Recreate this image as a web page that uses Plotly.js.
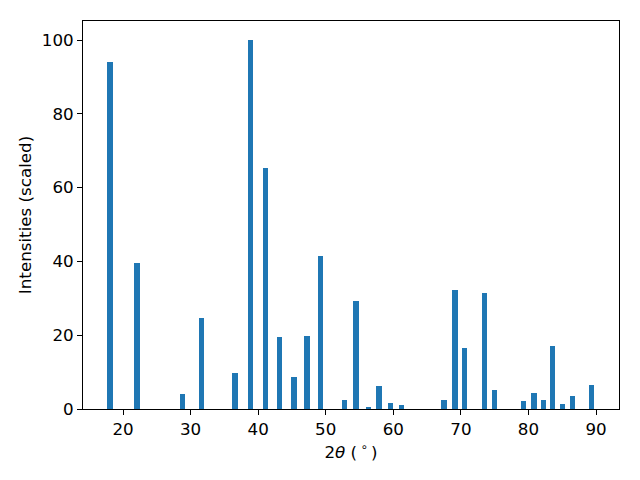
<!DOCTYPE html>
<html>
<head>
<meta charset="utf-8">
<script src="https://cdn.plot.ly/plotly-3.0.1.min.js"></script>
<style>html,body{margin:0;padding:0;background:#fff;}#chart{width:640px;height:480px;}</style>
</head>
<body>
<div id="chart"></div>
<script>
const twoTheta = [18.1, 22.1, 28.8, 31.6, 36.6, 38.9, 41.1, 43.2, 45.3, 47.2, 49.2, 52.8,
  54.5, 56.3, 57.9, 59.6, 61.2, 67.5, 69.1, 70.5, 73.5, 75.0, 79.3, 80.8, 82.2, 83.6, 85.0, 86.5, 89.3];
const intensities = [94.0, 39.6, 4.1, 24.7, 9.8, 100, 65.3, 19.5, 8.7, 19.8, 41.5, 2.4,
  29.3, 0.5, 6.2, 1.6, 1.1, 2.4, 32.2, 16.5, 31.4, 5.2, 2.2, 4.3, 2.4, 17.1, 1.4, 3.5, 6.5];
const xTicks = [20, 30, 40, 50, 60, 70, 80, 90];
const yTicks = [0, 20, 40, 60, 80, 100];

const font = {family: 'DejaVu Sans', size: 16.7, color: '#000'};
Plotly.newPlot('chart', [{
  type: 'bar',
  x: twoTheta,
  y: intensities,
  width: 0.8,
  marker: {color: '#1f77b4', line: {width: 0}}
}], {
  width: 640, height: 480,
  margin: {l: 83, r: 21, t: 21, b: 71},
  paper_bgcolor: '#fff', plot_bgcolor: '#fff',
  font: font,
  showlegend: false,
  bargap: 0,
  xaxis: {
    range: [14.08, 93.4],
    tickvals: xTicks, ticktext: xTicks.map(String),
    ticks: 'outside', ticklen: 5, tickwidth: 1, tickcolor: '#000',
    showline: true, linecolor: '#000', linewidth: 1, mirror: true,
    showgrid: false, zeroline: false,
    tickfont: font,
    title: {text: '2<i>θ</i> (\u2009<sup>∘</sup>\u2009)', font: font, standoff: 8}
  },
  yaxis: {
    range: [0, 105.15],
    tickvals: yTicks, ticktext: yTicks.map(String),
    ticks: 'outside', ticklen: 5, tickwidth: 1, tickcolor: '#000',
    showline: true, linecolor: '#000', linewidth: 1, mirror: true,
    showgrid: false, zeroline: false,
    tickfont: font,
    title: {text: 'Intensities (scaled)', font: font, standoff: 5}
  }
}, {staticPlot: true});
</script>
</body>
</html>
